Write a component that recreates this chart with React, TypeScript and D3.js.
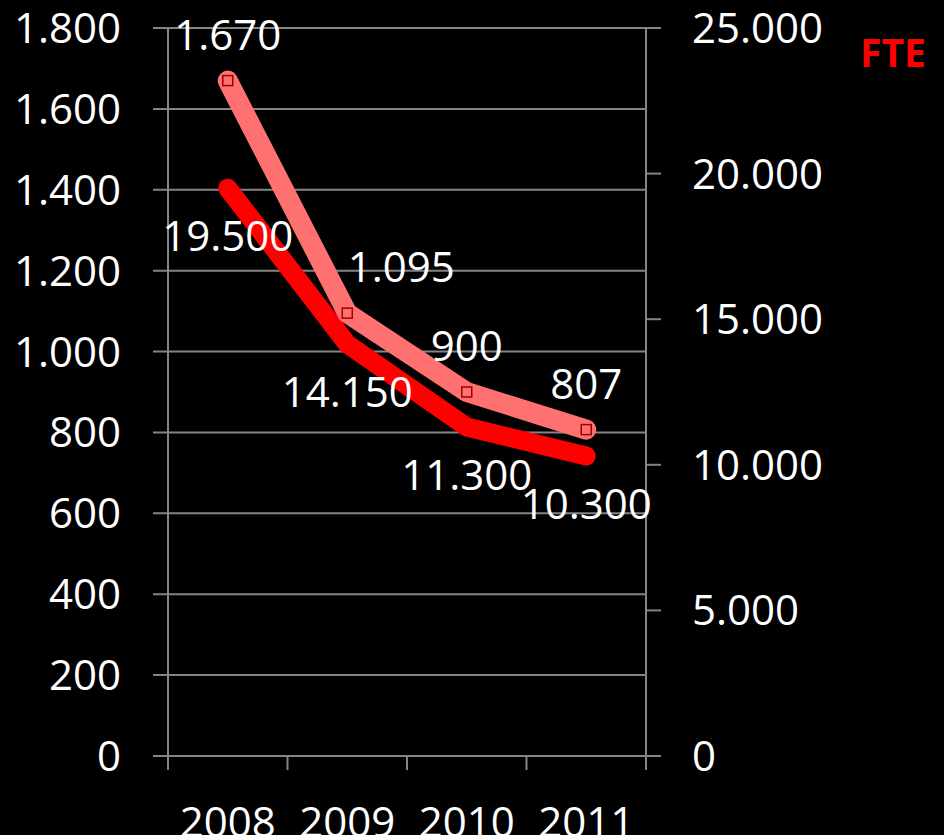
import React from "react";
import * as d3 from "d3";

const years = ["2008", "2009", "2010", "2011"];
const costValues = [1670, 1095, 900, 807];
const fteValues = [19500, 14150, 11300, 10300];
const leftTicks = [0, 200, 400, 600, 800, 1000, 1200, 1400, 1600, 1800];
const rightTicks = [0, 5000, 10000, 15000, 20000, 25000];
const costLabelDx = [0, 54, 0, 0];

const W = 944;
const H = 835;
const FONT = "'Open Sans', sans-serif";
const fmt = (v: number) => {
  const s = String(v);
  return s.length > 3 ? s.slice(0, s.length - 3) + "." + s.slice(-3) : s;
};

export default function App() {
  const left = 168;
  const right = 646;
  const top = 28;
  const bottom = 756;
  const x = d3.scaleBand().domain(years).range([left, right]);
  const cx = (i: number) => (x(years[i]) as number) + x.bandwidth() / 2;
  const yL = d3.scaleLinear().domain([0, 1800]).range([bottom, top]);
  const yR = d3.scaleLinear().domain([0, 25000]).range([bottom, top]);
  const lineCost = d3
    .line<number>()
    .x((_, i) => cx(i))
    .y((d) => yL(d));
  const lineFte = d3
    .line<number>()
    .x((_, i) => cx(i))
    .y((d) => yR(d));
  const grid = "#858585";
  const bounds = [...years.map((y) => x(y) as number), right];
  return (
    <svg
      width={W}
      height={H}
      style={{ position: "absolute", left: 0, top: 0, background: "#000" }}
    >
      <rect x={0} y={0} width={W} height={H} fill="#000" />
      {leftTicks.map((t) => (
        <line key={"g" + t} x1={153} x2={right} y1={yL(t)} y2={yL(t)} stroke={grid} strokeWidth={2} />
      ))}
      <line x1={left} x2={left} y1={top} y2={bottom + 14} stroke={grid} strokeWidth={2} />
      <line x1={right} x2={right} y1={top} y2={bottom + 14} stroke={grid} strokeWidth={2} />
      {bounds.map((b, i) => (
        <line key={"xt" + i} x1={b} x2={b} y1={bottom} y2={bottom + 14} stroke={grid} strokeWidth={2} />
      ))}
      {rightTicks.map((t) => (
        <line key={"rt" + t} x1={right} x2={661} y1={yR(t)} y2={yR(t)} stroke={grid} strokeWidth={2} />
      ))}
      {leftTicks.map((t) => (
        <text key={"lt" + t} x={121} y={yL(t) + 15} fill="#fff" fontSize={42} fontFamily={FONT} textAnchor="end">
          {fmt(t)}
        </text>
      ))}
      {rightTicks.map((t) => (
        <text key={"rl" + t} x={692} y={yR(t) + 15} fill="#fff" fontSize={42} fontFamily={FONT} textAnchor="start">
          {fmt(t)}
        </text>
      ))}
      {years.map((y, i) => (
        <text key={"yl" + y} x={cx(i)} y={837} fill="#fff" fontSize={42} fontFamily={FONT} textAnchor="middle">
          {y}
        </text>
      ))}
      <path
        d={lineFte(fteValues) as string}
        fill="none"
        stroke="#ff0000"
        strokeWidth={19}
        strokeLinecap="round"
        strokeLinejoin="round"
      />
      <path
        d={lineCost(costValues) as string}
        fill="none"
        stroke="#ff7171"
        strokeWidth={20}
        strokeLinecap="round"
        strokeLinejoin="round"
      />
      {costValues.map((v, i) => (
        <rect
          key={"m" + i}
          x={cx(i) - 5}
          y={yL(v) - 5}
          width={10}
          height={10}
          fill="none"
          stroke="#a00000"
          strokeWidth={1.5}
        />
      ))}
      {costValues.map((v, i) => (
        <text
          key={"cl" + i}
          x={cx(i) + costLabelDx[i]}
          y={yL(v) - 31}
          fill="#fff"
          fontSize={42}
          fontFamily={FONT}
          textAnchor="middle"
        >
          {fmt(v)}
        </text>
      ))}
      {fteValues.map((v, i) => (
        <text
          key={"fl" + i}
          x={cx(i)}
          y={yR(v) + 63}
          fill="#fff"
          fontSize={42}
          fontFamily={FONT}
          textAnchor="middle"
        >
          {fmt(v)}
        </text>
      ))}
      <text x={860} y={67} fill="#ff0000" fontSize={40} fontWeight="bold" fontFamily={FONT} textLength={66} lengthAdjust="spacingAndGlyphs">
        FTE
      </text>
    </svg>
  );
}
